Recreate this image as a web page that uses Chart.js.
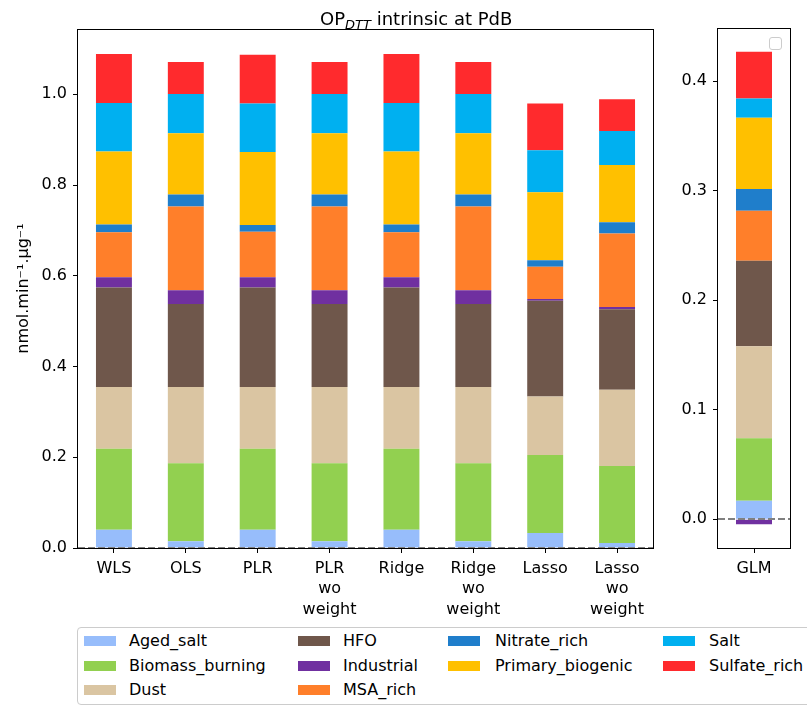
<!DOCTYPE html>
<html>
<head>
<meta charset="utf-8">
<script src="https://cdn.jsdelivr.net/npm/chart.js@4.4.0/dist/chart.umd.min.js"></script>
<style>
  html, body { margin: 0; padding: 0; background: #fff; }
  body { width: 807px; height: 707px; position: relative; overflow: hidden;
         font-family: "DejaVu Sans", sans-serif; color: #000; }
  #mainCanvas { position: absolute; left: 0; top: 0; }
  #sideCanvas { position: absolute; left: 660px; top: 0; }
  #title { position: absolute; left: 320px; top: 8px; text-align: left;
           font-size: 18px; line-height: 22px; white-space: nowrap; }
  #title sub { font-style: italic; font-size: 13px; vertical-align: -4px; line-height: 0; }
  #legend { position: absolute; left: 77px; top: 627px; width: 760px; height: 78px;
            border: 1px solid #cccccc; border-radius: 4px; box-sizing: border-box; background: #fff; }
  #legend .sw { position: absolute; width: 32px; height: 10px; }
  #legend .lb { position: absolute; font-size: 16px; line-height: 20px; white-space: nowrap; }
  #emptyLegend { position: absolute; left: 769px; top: 37px; width: 13px; height: 13px;
                 border: 1px solid #cccccc; border-radius: 3px; box-sizing: border-box; background: #fff; }
</style>
</head>
<body>
<canvas id="mainCanvas" width="660" height="625"></canvas>
<canvas id="sideCanvas" width="147" height="625"></canvas>
<div id="title">OP<sub>DTT</sub> intrinsic at PdB</div>
<div id="emptyLegend"></div>
<div id="legend"></div>
<script>
// Regression methods (left panel) and their tick labels
const methods = ['WLS', 'OLS', 'PLR', 'PLR wo weight', 'Ridge', 'Ridge wo weight', 'Lasso', 'Lasso wo weight'];
const methodTickLabels = [['WLS'], ['OLS'], ['PLR'], ['PLR', 'wo', 'weight'], ['Ridge'],
                          ['Ridge', 'wo', 'weight'], ['Lasso'], ['Lasso', 'wo', 'weight']];
const glmLabels = ['GLM'];

// Source names and colours, bottom of the stack first
const sourceNames = ['Aged_salt', 'Biomass_burning', 'Dust', 'HFO', 'Industrial',
                     'MSA_rich', 'Nitrate_rich', 'Primary_biogenic', 'Salt', 'Sulfate_rich'];
const sourceColors = ['#97bdfb', '#92d050', '#dac5a2', '#6f574b', '#7030a0',
                      '#ff7f2a', '#1f7ecb', '#ffc000', '#00b0f0', '#ff2a2d'];

// Intrinsic OP per source (nmol/min/µg), one value per method
const agedSalt        = [0.040, 0.015, 0.040, 0.015, 0.040, 0.015, 0.033, 0.011];
const biomassBurning  = [0.179, 0.172, 0.179, 0.172, 0.179, 0.172, 0.172, 0.170];
const dust            = [0.136, 0.168, 0.136, 0.168, 0.136, 0.168, 0.129, 0.168];
const hfo             = [0.219, 0.183, 0.219, 0.183, 0.219, 0.183, 0.211, 0.177];
const industrial      = [0.023, 0.030, 0.023, 0.030, 0.023, 0.030, 0.004, 0.005];
const msaRich         = [0.099, 0.185, 0.100, 0.185, 0.099, 0.185, 0.071, 0.162];
const nitrateRich     = [0.017, 0.026, 0.015, 0.026, 0.017, 0.026, 0.014, 0.025];
const primaryBiogenic = [0.161, 0.135, 0.161, 0.135, 0.161, 0.135, 0.150, 0.126];
const salt            = [0.107, 0.087, 0.107, 0.087, 0.107, 0.087, 0.0925, 0.075];
const sulfateRich     = [0.108, 0.070, 0.107, 0.070, 0.108, 0.070, 0.1035, 0.070];
const methodSeries = [agedSalt, biomassBurning, dust, hfo, industrial,
                      msaRich, nitrateRich, primaryBiogenic, salt, sulfateRich];

// GLM result, one value per source (same order as sourceNames)
const glmValues = [0.017, 0.057, 0.084, 0.078, -0.0046, 0.0457, 0.020, 0.065, 0.0176, 0.0426];

// Axis tick values
const mainYTicks = [0.0, 0.2, 0.4, 0.6, 0.8, 1.0];
const sideYTicks = [0.0, 0.1, 0.2, 0.3, 0.4];

const FONT = { family: 'DejaVu Sans', size: 16 };

// Dashed zero line plus a closed frame around the plot area
const framePlugin = {
  id: 'frameAndZero',
  afterDatasetsDraw(chart) {
    const { ctx, chartArea: a } = chart;
    const y0 = Math.round(chart.scales.y.getPixelForValue(0));
    ctx.save();
    ctx.strokeStyle = '#808080';
    ctx.lineWidth = 2;
    ctx.setLineDash([7, 3]);
    ctx.beginPath();
    ctx.moveTo(a.left, y0);
    ctx.lineTo(a.right, y0);
    ctx.stroke();
    ctx.setLineDash([]);
    ctx.strokeStyle = '#000';
    ctx.lineWidth = 1;
    const l = Math.round(a.left) - 0.5, t = Math.round(a.top) + 0.5;
    const r = Math.round(a.right) + 0.5, b = Math.round(a.bottom) + 0.5;
    ctx.strokeRect(l, t, r - l, b - t);
    ctx.restore();
  }
};

function xScale(height) {
  return {
    stacked: true,
    offset: true,
    grid: { offset: false, drawOnChartArea: false, drawTicks: true, tickLength: 5, tickColor: '#000', tickWidth: 1 },
    border: { display: false },
    ticks: { color: '#000', font: { ...FONT, lineHeight: 1.3 }, padding: 5, maxRotation: 0, minRotation: 0, autoSkip: false },
    afterFit(s) { s.height = height; }
  };
}

function yScale(min, max, tickValues, width) {
  return {
    stacked: true,
    min: min,
    max: max,
    grid: { drawOnChartArea: false, drawTicks: true, tickLength: 5, tickColor: '#000', tickWidth: 1 },
    border: { display: false },
    ticks: { color: '#000', font: FONT, padding: 6, includeBounds: false,
             callback: v => v.toFixed(1) },
    afterBuildTicks(s) { s.ticks = tickValues.map(v => ({ value: v })); },
    afterFit(s) { s.width = width; }
  };
}

// Left panel: the eight regression methods
const mainY = yScale(0, 1.144, mainYTicks, 78);
mainY.title = { display: true, text: 'nmol.min⁻¹.µg⁻¹', color: '#000', font: FONT, padding: { top: 14, bottom: 0 } };

new Chart(document.getElementById('mainCanvas'), {
  type: 'bar',
  data: {
    labels: methodTickLabels,
    datasets: sourceNames.map((name, i) => ({
      label: name, data: methodSeries[i], backgroundColor: sourceColors[i], borderWidth: 0,
      barPercentage: 0.5, categoryPercentage: 1
    }))
  },
  options: {
    responsive: false, animation: false,
    layout: { padding: { top: 29, right: 7, left: 0, bottom: 0 } },
    plugins: { legend: { display: false }, tooltip: { enabled: false } },
    scales: { x: xScale(77), y: mainY }
  },
  plugins: [framePlugin]
});

// Right panel: GLM
new Chart(document.getElementById('sideCanvas'), {
  type: 'bar',
  data: {
    labels: glmLabels,
    datasets: sourceNames.map((name, i) => ({
      label: name, data: [glmValues[i]], backgroundColor: sourceColors[i], borderWidth: 0,
      barPercentage: 0.5, categoryPercentage: 1
    }))
  },
  options: {
    responsive: false, animation: false,
    layout: { padding: { top: 28, right: 17, left: 0, bottom: 0 } },
    plugins: { legend: { display: false }, tooltip: { enabled: false } },
    scales: { x: xScale(77), y: yScale(-0.0262, 0.4486, sideYTicks, 58) }
  },
  plugins: [framePlugin]
});

// Shared legend below both panels: four columns holding 3, 3, 2 and 2 entries
const legend = document.getElementById('legend');
const columnSizes = [3, 3, 2, 2];
const swatchX = [6, 220, 370, 585];
const textX = [51, 265, 417, 631];
const rowY = [13, 37.5, 62];
let entry = 0;
columnSizes.forEach((size, col) => {
  for (let row = 0; row < size; row++, entry++) {
    const sw = document.createElement('div');
    sw.className = 'sw';
    sw.style.left = swatchX[col] + 'px';
    sw.style.top = (rowY[row] - 5) + 'px';
    sw.style.background = sourceColors[entry];
    legend.appendChild(sw);
    const lb = document.createElement('div');
    lb.className = 'lb';
    lb.style.left = textX[col] + 'px';
    lb.style.top = (rowY[row] - 10) + 'px';
    lb.textContent = sourceNames[entry];
    legend.appendChild(lb);
  }
});
</script>
</body>
</html>
